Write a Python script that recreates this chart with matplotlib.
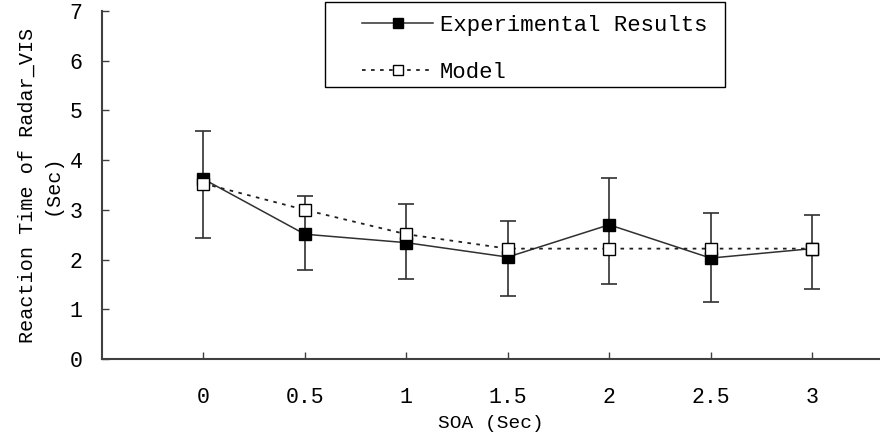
import matplotlib
matplotlib.use("Agg")
import matplotlib.pyplot as plt
from matplotlib.patches import Rectangle
import numpy as np

plt.rcParams['font.family'] = ['Liberation Mono', 'DejaVu Sans Mono']

soa = ["0", "0.5", "1", "1.5", "2", "2.5", "3"]
experimental = [3.62, 2.51, 2.34, 2.05, 2.70, 2.03, 2.22]
err_top = [4.59, 3.28, 3.11, 2.77, 3.65, 2.94, 2.89]
err_bottom = [2.43, 1.80, 1.61, 1.27, 1.51, 1.14, 1.41]
model = [3.53, 3.00, 2.51, 2.22, 2.22, 2.22, 2.22]

x = np.arange(len(soa))
exp = np.array(experimental)
yerr = [exp - np.array(err_bottom), np.array(err_top) - exp]

fig = plt.figure(figsize=(8.8, 4.43), dpi=100)
ax = fig.add_axes([102 / 880, 84 / 443, 778 / 880, 348 / 443])

ax.errorbar(x, exp, yerr=yerr, fmt='none', ecolor='#303030', elinewidth=1.2,
            capsize=6, capthick=1.2, zorder=2)
ax.plot(x, exp, '-', color='#303030', lw=1.1, marker='s', ms=8,
        mfc='black', mec='black', label='Experimental Results', zorder=3)
ax.plot(x, model, color='#202020', lw=1.3, ls=(0, (2, 3)), marker='s', ms=8,
        mfc='white', mec='black', mew=1.0, label='Model', zorder=4)

ax.set_xlim(-1, 6.67)
ax.set_ylim(0, 7)
ax.set_xticks(x)
ax.set_xticklabels(soa)
ax.set_yticks(range(8))

for s in ['top', 'right']:
    ax.spines[s].set_visible(False)
for s in ['left', 'bottom']:
    ax.spines[s].set_color('#404040')
    ax.spines[s].set_linewidth(1.5)

ax.tick_params(axis='x', direction='in', length=5, width=1, pad=20,
               labelsize=15.5, colors='#404040', labelcolor='black')
ax.tick_params(axis='y', direction='in', length=5, width=1, pad=14,
               labelsize=15.5, colors='#404040', labelcolor='black')

ax.set_xlabel("SOA (Sec)", fontsize=14, labelpad=5)
ax.set_ylabel("Reaction Time of Radar_VIS\n(Sec)", fontsize=14.5,
              labelpad=6, linespacing=1.35)

# legend box drawn separately so the padding matches
fig.patches.append(Rectangle((325 / 880, 1 - 87 / 443), 400 / 880, 85 / 443,
                             transform=fig.transFigure, fill=False,
                             edgecolor='black', lw=1.0))
leg = ax.legend(loc='upper left', bbox_to_anchor=(362 / 880, 1 - 15 / 443),
                bbox_transform=fig.transFigure, fontsize=16, handlelength=3.2,
                frameon=False, borderaxespad=0, borderpad=0,
                labelspacing=1.15, handletextpad=0.3, markerscale=0.9)

fig.savefig("out.png", dpi=100)
